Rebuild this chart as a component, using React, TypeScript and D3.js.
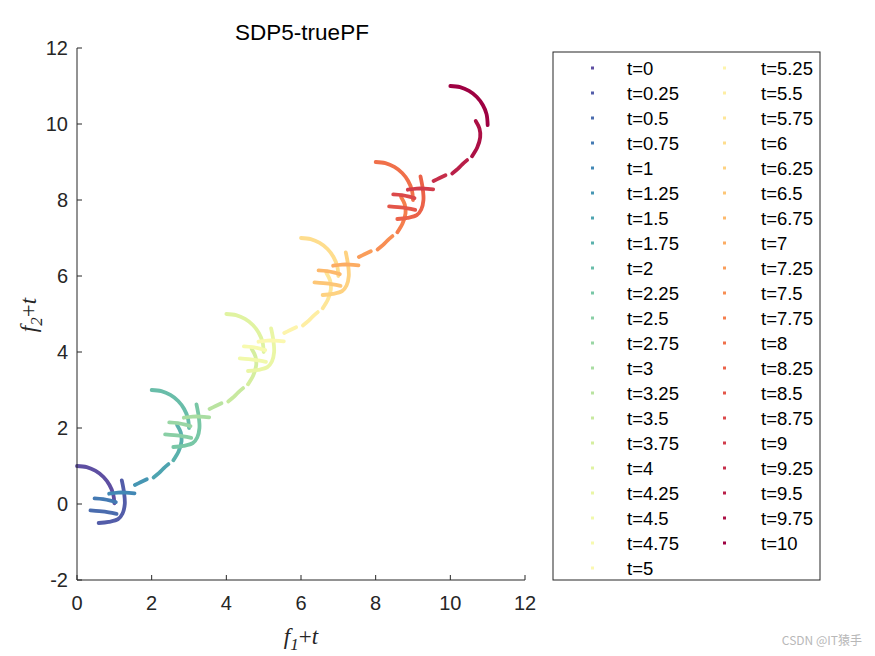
import React from "react";
import * as d3 from "d3";

// time steps shown in the legend
const T_VALUES: number[] = [
  0, 0.25, 0.5, 0.75, 1, 1.25, 1.5, 1.75, 2, 2.25, 2.5, 2.75, 3, 3.25, 3.5, 3.75,
  4, 4.25, 4.5, 4.75, 5, 5.25, 5.5, 5.75, 6, 6.25, 6.5, 6.75, 7, 7.25, 7.5, 7.75,
  8, 8.25, 8.5, 8.75, 9, 9.25, 9.5, 9.75, 10,
];

// true PF samples (f1, f2) for each t (plotted as f+t)
const PF_T0: [number, number][] = [[0, 1], [0.26, 0.97], [0.5, 0.87], [0.71, 0.71], [0.87, 0.5], [0.97, 0.26], [1.0, 0.02]];
const PF_T025: [number, number][] = [[0.33, -0.75], [0.6, -0.72], [0.85, -0.65], [0.97, -0.5], [1.03, -0.25], [1.01, 0.05], [0.95, 0.37]];
const PF_T05: [number, number][] = [[-0.14, -0.67], [0.1, -0.69], [0.35, -0.72], [0.56, -0.76]];
const PF_T075: [number, number][] = [[-0.28, -0.6], [-0.05, -0.62], [0.15, -0.66], [0.29, -0.7]];
const PF_T1: [number, number][] = [[-0.14, -0.73], [0.1, -0.7], [0.3, -0.7], [0.54, -0.72]];
const PF_T125: [number, number][] = [[0.3, -0.75], [0.45, -0.68], [0.62, -0.6]];
const PF_T15: [number, number][] = [[0.55, -0.8], [0.7, -0.68], [0.82, -0.56], [0.95, -0.45]];
const PF_T175: [number, number][] = [[0.83, -0.6], [0.97, -0.37], [1.05, -0.1], [1.03, 0.13], [0.93, 0.33]];
const PF_T2: [number, number][] = [[0, 1], [0.26, 0.97], [0.5, 0.87], [0.71, 0.71], [0.87, 0.5], [0.97, 0.26], [1.0, 0.0]];
const PF_T225: [number, number][] = [[0.33, -0.75], [0.6, -0.72], [0.85, -0.65], [0.97, -0.5], [1.03, -0.25], [1.01, 0.05], [0.95, 0.37]];
const PF_T25: [number, number][] = [[-0.14, -0.67], [0.1, -0.69], [0.35, -0.72], [0.56, -0.76]];
const PF_T275: [number, number][] = [[-0.28, -0.6], [-0.05, -0.62], [0.15, -0.66], [0.29, -0.7]];
const PF_T3: [number, number][] = [[-0.14, -0.73], [0.1, -0.7], [0.3, -0.7], [0.54, -0.72]];
const PF_T325: [number, number][] = [[0.3, -0.75], [0.45, -0.68], [0.62, -0.6]];
const PF_T35: [number, number][] = [[0.55, -0.8], [0.7, -0.68], [0.82, -0.56], [0.95, -0.45]];
const PF_T375: [number, number][] = [[0.83, -0.6], [0.97, -0.37], [1.05, -0.1], [1.03, 0.13], [0.93, 0.33]];
const PF_T4: [number, number][] = [[0, 1], [0.26, 0.97], [0.5, 0.87], [0.71, 0.71], [0.87, 0.5], [0.97, 0.26], [1.0, 0.0]];
const PF_T425: [number, number][] = [[0.33, -0.75], [0.6, -0.72], [0.85, -0.65], [0.97, -0.5], [1.03, -0.25], [1.01, 0.05], [0.95, 0.37]];
const PF_T45: [number, number][] = [[-0.14, -0.67], [0.1, -0.69], [0.35, -0.72], [0.56, -0.76]];
const PF_T475: [number, number][] = [[-0.28, -0.6], [-0.05, -0.62], [0.15, -0.66], [0.29, -0.7]];
const PF_T5: [number, number][] = [[-0.14, -0.73], [0.1, -0.7], [0.3, -0.7], [0.54, -0.72]];
const PF_T525: [number, number][] = [[0.3, -0.75], [0.45, -0.68], [0.62, -0.6]];
const PF_T55: [number, number][] = [[0.55, -0.8], [0.7, -0.68], [0.82, -0.56], [0.95, -0.45]];
const PF_T575: [number, number][] = [[0.83, -0.6], [0.97, -0.37], [1.05, -0.1], [1.03, 0.13], [0.93, 0.33]];
const PF_T6: [number, number][] = [[0, 1], [0.26, 0.97], [0.5, 0.87], [0.71, 0.71], [0.87, 0.5], [0.97, 0.26], [1.0, 0.0]];
const PF_T625: [number, number][] = [[0.33, -0.75], [0.6, -0.72], [0.85, -0.65], [0.97, -0.5], [1.03, -0.25], [1.01, 0.05], [0.95, 0.37]];
const PF_T65: [number, number][] = [[-0.14, -0.67], [0.1, -0.69], [0.35, -0.72], [0.56, -0.76]];
const PF_T675: [number, number][] = [[-0.28, -0.6], [-0.05, -0.62], [0.15, -0.66], [0.29, -0.7]];
const PF_T7: [number, number][] = [[-0.14, -0.73], [0.1, -0.7], [0.3, -0.7], [0.54, -0.72]];
const PF_T725: [number, number][] = [[0.3, -0.75], [0.45, -0.68], [0.62, -0.6]];
const PF_T75: [number, number][] = [[0.55, -0.8], [0.7, -0.68], [0.82, -0.56], [0.95, -0.45]];
const PF_T775: [number, number][] = [[0.83, -0.6], [0.97, -0.37], [1.05, -0.1], [1.03, 0.13], [0.93, 0.33]];
const PF_T8: [number, number][] = [[0, 1], [0.26, 0.97], [0.5, 0.87], [0.71, 0.71], [0.87, 0.5], [0.97, 0.26], [1.0, 0.0]];
const PF_T825: [number, number][] = [[0.33, -0.75], [0.6, -0.72], [0.85, -0.65], [0.97, -0.5], [1.03, -0.25], [1.01, 0.05], [0.95, 0.37]];
const PF_T85: [number, number][] = [[-0.14, -0.67], [0.1, -0.69], [0.35, -0.72], [0.56, -0.76]];
const PF_T875: [number, number][] = [[-0.28, -0.6], [-0.05, -0.62], [0.15, -0.66], [0.29, -0.7]];
const PF_T9: [number, number][] = [[-0.14, -0.73], [0.1, -0.7], [0.3, -0.7], [0.54, -0.72]];
const PF_T925: [number, number][] = [[0.3, -0.75], [0.45, -0.68], [0.62, -0.6]];
const PF_T95: [number, number][] = [[0.55, -0.8], [0.7, -0.68], [0.82, -0.56], [0.95, -0.45]];
const PF_T975: [number, number][] = [[0.83, -0.6], [0.97, -0.37], [1.05, -0.1], [1.03, 0.13], [0.93, 0.33]];
const PF_T10: [number, number][] = [[0, 1], [0.26, 0.97], [0.5, 0.87], [0.71, 0.71], [0.87, 0.5], [0.97, 0.26], [1.0, -0.03]];

const PF_SETS: [number, number][][] = [
  PF_T0, PF_T025, PF_T05, PF_T075, PF_T1, PF_T125, PF_T15, PF_T175,
  PF_T2, PF_T225, PF_T25, PF_T275, PF_T3, PF_T325, PF_T35, PF_T375,
  PF_T4, PF_T425, PF_T45, PF_T475, PF_T5, PF_T525, PF_T55, PF_T575,
  PF_T6, PF_T625, PF_T65, PF_T675, PF_T7, PF_T725, PF_T75, PF_T775,
  PF_T8, PF_T825, PF_T85, PF_T875, PF_T9, PF_T925, PF_T95, PF_T975,
  PF_T10,
];

const X_TICKS = [0, 2, 4, 6, 8, 10, 12];
const Y_TICKS = [-2, 0, 2, 4, 6, 8, 10, 12];

const AXIS = "#262626";
const SANS = "Arial, 'Liberation Sans', Helvetica, sans-serif";
const SERIF = "'Times New Roman', 'Liberation Serif', Times, serif";

export default function App() {
  const W = 875;
  const H = 656;
  const x = d3.scaleLinear().domain([0, 12]).range([77, 525]);
  const y = d3.scaleLinear().domain([-2, 12]).range([580, 48]);
  const color = (t: number) => d3.interpolateSpectral(1 - t / 10);

  const line = (t: number) =>
    d3
      .line<[number, number]>()
      .x((d) => x(d[0] + t))
      .y((d) => y(d[1] + t))
      .curve(d3.curveCatmullRom.alpha(0.5));

  const legendX = 553;
  const legendY = 52;
  const legendW = 267;
  const legendH = 528;
  const rowH = 25;
  const firstRow = 68;
  const col1 = T_VALUES.slice(0, 21);
  const col2 = T_VALUES.slice(21);

  return (
    <svg
      width={W}
      height={H}
      style={{ position: "absolute", left: 0, top: 0, background: "#fff" }}
    >
      <rect x={0} y={0} width={W} height={H} fill="#fff" />
      {/* data */}
      <g>
        {T_VALUES.map((t, i) => (
          <path
            key={t}
            d={line(t)(PF_SETS[i]) || ""}
            fill="none"
            stroke={color(t)}
            strokeWidth={3.8}
            strokeLinecap="round"
            strokeLinejoin="round"
          />
        ))}
      </g>
      {/* axes */}
      <g stroke={AXIS} strokeWidth={1} fill="none">
        <line x1={x(0)} x2={x(0)} y1={y(-2)} y2={y(12)} />
        <line x1={x(0)} x2={x(12)} y1={y(-2)} y2={y(-2)} />
        {X_TICKS.map((v) => (
          <line key={"xt" + v} x1={x(v)} x2={x(v)} y1={y(-2)} y2={y(-2) - 5} />
        ))}
        {Y_TICKS.map((v) => (
          <line key={"yt" + v} x1={x(0)} x2={x(0) + 5} y1={y(v)} y2={y(v)} />
        ))}
      </g>
      <g fontFamily={SANS} fontSize={20} fill={AXIS}>
        {X_TICKS.map((v) => (
          <text key={"xl" + v} x={x(v)} y={y(-2) + 30} textAnchor="middle">
            {v}
          </text>
        ))}
        {Y_TICKS.map((v) => (
          <text key={"yl" + v} x={x(0) - 9} y={y(v) + 7} textAnchor="end">
            {v}
          </text>
        ))}
      </g>
      {/* title */}
      <text x={302} y={40} textAnchor="middle" fontFamily={SANS} fontSize={22.5} fill="#000">
        SDP5-truePF
      </text>
      {/* axis labels */}
      <text x={301} y={644} textAnchor="middle" fontFamily={SERIF} fontSize={23} fill={AXIS}>
        <tspan fontStyle="italic">f</tspan>
        <tspan fontStyle="italic" fontSize={17} dy={6}>1</tspan>
        <tspan dy={-6}>+</tspan>
        <tspan fontStyle="italic">t</tspan>
      </text>
      <text
        transform={`translate(36, 315) rotate(-90)`}
        textAnchor="middle"
        fontFamily={SERIF}
        fontSize={23}
        fill={AXIS}
      >
        <tspan fontStyle="italic">f</tspan>
        <tspan fontStyle="italic" fontSize={17} dy={6}>2</tspan>
        <tspan dy={-6}>+</tspan>
        <tspan fontStyle="italic">t</tspan>
      </text>
      {/* legend */}
      <rect
        x={legendX}
        y={legendY}
        width={legendW}
        height={legendH}
        fill="#fff"
        stroke={AXIS}
        strokeWidth={1}
      />
      <g fontFamily={SANS} fontSize={18.5} fill="#000">
        {col1.map((t, i) => (
          <g key={"l1" + t}>
            <rect x={591} y={firstRow + i * rowH - 1.5} width={3} height={3} fill={color(t)} />
            <text x={627} y={firstRow + i * rowH + 6.5}>{`t=${t}`}</text>
          </g>
        ))}
        {col2.map((t, i) => (
          <g key={"l2" + t}>
            <rect x={723} y={firstRow + i * rowH - 1.5} width={3} height={3} fill={color(t)} />
            <text x={761} y={firstRow + i * rowH + 6.5}>{`t=${t}`}</text>
          </g>
        ))}
      </g>
      {/* watermark */}
      <text
        x={862}
        y={645}
        textAnchor="end"
        fontFamily="'Noto Sans CJK SC', 'Noto Sans', sans-serif"
        fontSize={12}
        fill="#b8b8b8"
      >
        CSDN @IT猿手
      </text>
    </svg>
  );
}
